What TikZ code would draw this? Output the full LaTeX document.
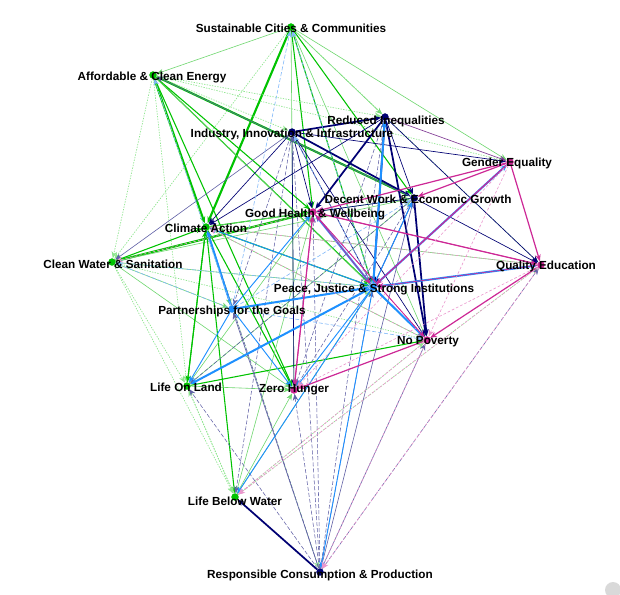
\documentclass[tikz,border=0pt]{standalone}
\usepackage{fontspec}
\setmainfont{Liberation Sans}
\usetikzlibrary{arrows.meta}
\definecolor{cG}{RGB}{0,195,0}
\definecolor{cGl}{RGB}{110,215,110}
\definecolor{cGd}{RGB}{140,230,140}
\definecolor{cN}{RGB}{0,0,115}
\definecolor{cNl}{RGB}{95,95,165}
\definecolor{cB}{RGB}{30,144,255}
\definecolor{cBl}{RGB}{130,185,250}
\definecolor{cM}{RGB}{205,40,150}
\definecolor{cMl}{RGB}{235,150,205}
\definecolor{cP}{RGB}{130,60,150}
\tikzset{
  edge/.style={-{Stealth[length=5pt,width=4pt]}},
  gA/.style={edge, draw=cG, line width=1.6pt},
  gB/.style={edge, draw=cG, line width=0.8pt},
  gC/.style={edge, draw=cGl, line width=0.45pt},
  gD/.style={edge, draw=cGd, line width=0.5pt, dash pattern=on 1pt off 1pt},
  nA/.style={edge, draw=cN, line width=1.3pt},
  nB/.style={edge, draw=cN, line width=0.5pt},
  nC/.style={edge, draw=cNl, line width=0.4pt, dash pattern=on 3pt off 1.5pt},
  nD/.style={edge, draw=cNl, line width=0.45pt},
  bA/.style={edge, draw=cB, line width=1.5pt},
  bB/.style={edge, draw=cB, line width=0.7pt},
  bC/.style={edge, draw=cBl, line width=0.45pt, dash pattern=on 3pt off 1.5pt},
  mA/.style={edge, draw=cM, line width=0.9pt},
  mB/.style={edge, draw=cM, line width=0.5pt},
  mC/.style={edge, draw=cMl, line width=0.45pt, dash pattern=on 2pt off 1.5pt},
  pB/.style={edge, draw=cP, line width=0.5pt},
  dot/.style={circle, inner sep=0pt, minimum size=5.5pt},
  lbl/.style={font=\bfseries\fontsize{8.8}{10}\selectfont, text=black, inner sep=0pt}
}
\begin{document}
\begin{tikzpicture}[x=0.75pt, y=-0.75pt]
\useasboundingbox (0,0) rectangle (620,594);
\fill[white] (0,0) rectangle (620,594);
% node dots
\node[dot, fill=cG] (SC) at (291,27) {};
\node[dot, fill=cG] (AE) at (153,75) {};
\node[dot, fill=cN] (RI) at (385,117) {};
\node[dot, fill=cN] (II) at (292,132) {};
\node[dot, fill=cM] (GE) at (510,162) {};
\node[dot, fill=cN] (DW) at (414,198) {};
\node[dot, fill=cM] (GH) at (313,212) {};
\node[dot, fill=cG] (CA) at (206,227) {};
\node[dot, fill=cG] (CW) at (112,262) {};
\node[dot, fill=cM] (QE) at (541,265) {};
\node[dot, fill=cB] (PJ) at (373,287) {};
\node[dot, fill=cB] (PG) at (232,309) {};
\node[dot, fill=cM] (NP) at (427,340) {};
\node[dot, fill=cG] (LL) at (187,386) {};
\node[dot, fill=cM] (ZH) at (294,390) {};
\node[dot, fill=cG] (LB) at (235,497) {};
\node[dot, fill=cN] (RC) at (320,572) {};
% green sources
\draw[gA] (SC) -- (CA);
\draw[gB] (SC) -- (GH);
\draw[gB] (SC) -- (DW);
\draw[gC] (SC) -- (RI);
\draw[gB] (SC) -- (PJ);
\draw[gC] (SC) -- (GE);
\draw[gC] (SC) -- (AE);
\draw[gC] (SC) -- (ZH);
\draw[gC] (SC) -- (NP);
\draw[gD] (SC) -- (QE);
\draw[gD] (SC) -- (CW);
\draw[gA] (AE) -- (CA);
\draw[gA] (AE) -- (DW);
\draw[gB] (AE) -- (GH);
\draw[gB] (AE) -- (PJ);
\draw[gD] (AE) -- (RI);
\draw[gD] (AE) -- (II);
\draw[gD] (AE) -- (CW);
\draw[gD] (AE) -- (LL);
\draw[gB] (AE) -- (ZH);
\draw[gC] (AE) -- (NP);
\draw[gD] (AE) -- (GE);
\draw[gD] (AE) -- (PG);
\draw[gA] (CW) -- (GH);
\draw[gB] (CW) -- (CA);
\draw[gC] (CW) -- (PJ);
\draw[gC] (CW) -- (ZH);
\draw[gD] (CW) -- (LL);
\draw[gD] (CW) -- (LB);
\draw[gD] (CW) -- (NP);
\draw[gC] (CW) -- (PG);
\draw[gC] (CW) -- (DW);
\draw[gB] (CA) -- (GH);
\draw[gC] (CA) -- (DW);
\draw[gB] (CA) -- (PJ);
\draw[gC] (CA) -- (NP);
\draw[gB] (CA) -- (ZH);
\draw[gB] (CA) -- (LL);
\draw[gB] (CA) -- (LB);
\draw[gC] (CA) -- (QE);
\draw[gD] (CA) -- (RC);
\draw[gC] (CA) -- (PG);
\draw[gB] (LL) -- (NP);
\draw[gC] (LL) -- (ZH);
\draw[gB] (LL) -- (CA);
\draw[gC] (LL) -- (PJ);
\draw[gC] (LL) -- (GH);
\draw[gD] (LL) -- (LB);
\draw[gC] (LL) -- (DW);
\draw[gC] (LB) -- (ZH);
\draw[gD] (LB) -- (NP);
\draw[gC] (LB) -- (PJ);
\draw[gD] (LB) -- (QE);
\draw[gC] (LB) -- (GH);
\draw[gD] (LB) -- (LL);
% navy sources
\draw[nA] (II) -- (DW);
\draw[nB] (II) -- (CA);
\draw[nB] (II) -- (GH);
\draw[nA] (II) -- (RI);
\draw[nB] (II) -- (ZH);
\draw[nB] (II) -- (PJ);
\draw[nB] (II) -- (NP);
\draw[nB] (II) -- (GE);
\draw[nC] (II) -- (PG);
\draw[nC] (II) -- (LB);
\draw[nD] (II) -- (CW);
\draw[nA] (RI) -- (GH);
\draw[nA] (RI) -- (PJ);
\draw[nA] (RI) -- (NP);
\draw[nB] (RI) -- (CA);
\draw[nB] (RI) -- (QE);
\draw[nB] (RI) -- (DW);
\draw[nC] (RI) -- (ZH);
\draw[pB] (RI) -- (GE);
\draw[nA] (DW) -- (NP);
\draw[nB] (DW) -- (QE);
\draw[nB] (DW) -- (PJ);
\draw[nB] (DW) -- (GH);
\draw[nD] (DW) -- (AE);
\draw[nC] (DW) -- (LL);
\draw[nC] (DW) -- (ZH);
\draw[nA] (RC) -- (LB);
\draw[nC] (RC) -- (II);
\draw[nC] (RC) -- (GH);
\draw[nC] (RC) -- (RI);
\draw[nC] (RC) -- (PJ);
\draw[nD] (RC) -- (DW);
\draw[nD] (RC) -- (NP);
\draw[nC] (RC) -- (CA);
\draw[nC] (RC) -- (LL);
\draw[nD] (RC) -- (PG);
\draw[nC] (RC) -- (ZH);
\draw[nC] (RC) -- (QE);
% blue sources
\draw[bA] (PG) -- (CA);
\draw[bA] (PJ) -- (GH);
\draw[bA] (PG) -- (PJ);
\draw[bA] (PJ) -- (QE);
\draw[bA] (PJ) -- (GE);
\draw[bA] (PJ) -- (RI);
\draw[bA] (PJ) -- (NP);
\draw[bA] (PJ) -- (LL);
\draw[bB] (PJ) -- (ZH);
\draw[bB] (PJ) -- (LB);
\draw[bB] (PG) -- (LL);
\draw[bB] (PG) -- (ZH);
\draw[bC] (PG) -- (CW);
\draw[bB] (PJ) -- (DW);
\draw[bC] (PJ) -- (CW);
\draw[bC] (PJ) -- (II);
\draw[bC] (PJ) -- (SC);
\draw[bC] (PG) -- (SC);
\draw[bB] (PG) -- (GH);
\draw[bC] (PG) -- (DW);
\draw[bB] (PJ) -- (RC);
\draw[bC] (PG) -- (AE);
\draw[bC] (PG) -- (NP);
\draw[bB] (PJ) -- (CA);
% magenta sources
\draw[mA] (GE) -- (DW);
\draw[mA] (GE) -- (GH);
\draw[mA] (GE) -- (QE);
\draw[mA] (GE) -- (PJ);
\draw[mA] (QE) -- (NP);
\draw[mA] (QE) -- (GH);
\draw[mC] (QE) -- (ZH);
\draw[mC] (QE) -- (RC);
\draw[mC] (QE) -- (LB);
\draw[mB] (QE) -- (PJ);
\draw[mA] (ZH) -- (GH);
\draw[mA] (NP) -- (ZH);
\draw[mB] (NP) -- (GH);
\draw[mC] (NP) -- (LB);
\draw[mC] (NP) -- (RC);
\draw[mC] (NP) -- (CA);
\draw[mB] (GH) -- (PJ);
\draw[mB] (GH) -- (QE);
\draw[mB] (GH) -- (NP);
\draw[mB] (GH) -- (ZH);
\draw[mC] (GH) -- (CW);
\draw[mC] (GE) -- (NP);
\draw[mC] (GE) -- (ZH);
\draw[mC] (QE) -- (CA);
% redraw dots on top
\foreach \n/\c in {SC/cG,AE/cG,RI/cN,II/cN,GE/cM,DW/cN,GH/cM,CA/cG,CW/cG,QE/cM,PJ/cB,PG/cB,NP/cM,LL/cG,ZH/cM,LB/cG,RC/cN}
  \fill[\c] (\n) circle (2.6pt);
% labels
\node[lbl] (tSC) at (291,28) {Sustainable Cities \& Communities};
\node[lbl] (tAE) at (152,77) {Affordable \& Clean Energy};
\node[lbl] (tRI) at (386,121) {Reduced Inequalities};
\node[lbl] (tII) at (292,134) {Industry, Innovation \& Infrastructure};
\node[lbl] (tGE) at (507,163) {Gender Equality};
\node[lbl] (tDW) at (418,199) {Decent Work \& Economic Growth};
\node[lbl] (tGH) at (315,214) {Good Health \& Wellbeing};
\node[lbl] (tCA) at (206,228) {Climate Action};
\node[lbl] (tCW) at (113,264) {Clean Water \& Sanitation};
\node[lbl] (tQE) at (546,266) {Quality Education};
\node[lbl] (tPJ) at (374,289) {Peace, Justice \& Strong Institutions};
\node[lbl] (tPG) at (232,311) {Partnerships for the Goals};
\node[lbl] (tNP) at (428,342) {No Poverty};
\node[lbl] (tLL) at (186,387) {Life On Land};
\node[lbl] (tZH) at (294,390) {Zero Hunger};
\node[lbl] (tLB) at (235,501) {Life Below Water};
\node[lbl] (tRC) at (320,575) {Responsible Consumption \& Production};
% corner widget
\fill[black!15] (613,590) circle (6pt);
\end{tikzpicture}
\end{document}
